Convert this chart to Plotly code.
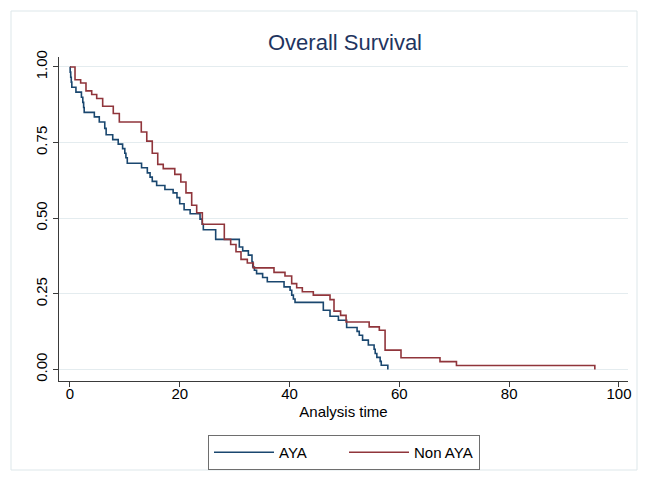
import plotly.graph_objects as go

# Kaplan-Meier step data (time, survival)
aya_time = [0, 0.05, 0.15, 0.25, 0.35, 1.1, 2.1, 2.35, 2.5, 2.6, 4.45, 5.35, 6.35, 6.6,
            7.8, 8.8, 9.6, 10.0, 10.2, 10.45, 13.05, 14.1, 14.6, 15.0, 15.8, 17.3, 18.8,
            19.5, 20.0, 20.8, 21.9, 23.7, 24.1, 24.3, 26.55, 30.85, 31.47, 32.5, 33.16,
            33.3, 33.6, 34.0, 35.1, 35.95, 39.0, 40.1, 40.4, 40.7, 41.0, 46.15, 47.37,
            48.9, 50.4, 52.3, 52.7, 53.3, 54.35, 55.4, 55.6, 55.9, 56.5, 56.7, 57.9]
aya_surv = [1.0, 0.983, 0.966, 0.95, 0.933, 0.917, 0.900, 0.883, 0.866, 0.850, 0.835, 0.818,
            0.797, 0.776, 0.760, 0.745, 0.730, 0.715, 0.700, 0.682, 0.667, 0.650, 0.636,
            0.622, 0.608, 0.595, 0.584, 0.568, 0.548, 0.528, 0.515, 0.497, 0.480, 0.462,
            0.430, 0.405, 0.392, 0.378, 0.356, 0.339, 0.328, 0.317, 0.304, 0.290, 0.273,
            0.262, 0.246, 0.233, 0.222, 0.196, 0.176, 0.163, 0.139, 0.126, 0.113, 0.097,
            0.081, 0.067, 0.053, 0.040, 0.027, 0.014, 0.0]

nonaya_time = [0, 0.93, 1.96, 2.93, 3.97, 4.88, 5.97, 7.9, 9.0, 13.0, 14.0, 15.0, 16.0, 17.0,
               19.1, 20.2, 21.14, 22.18, 23.09, 24.12, 28.12, 29.28, 30.25, 31.16, 32.31,
               33.4, 37.17, 39.17, 40.39, 41.3, 42.33, 44.33, 47.37, 48.1, 49.3, 50.3, 54.5,
               56.35, 57.4, 60.3, 67.4, 70.4, 95.6]
nonaya_surv = [1.0, 0.958, 0.947, 0.921, 0.909, 0.896, 0.870, 0.846, 0.818, 0.785, 0.755,
               0.715, 0.678, 0.664, 0.645, 0.620, 0.584, 0.543, 0.518, 0.480, 0.430, 0.413,
               0.389, 0.364, 0.352, 0.336, 0.321, 0.309, 0.284, 0.270, 0.257, 0.246, 0.231,
               0.193, 0.179, 0.157, 0.141, 0.130, 0.064, 0.039, 0.026, 0.013, 0.0]

series_names = ["AYA", "Non AYA"]
x_ticks = [0, 20, 40, 60, 80, 100]
y_ticks = [0, 0.25, 0.5, 0.75, 1.0]
y_tick_labels = ["0.00", "0.25", "0.50", "0.75", "1.00"]

FONT = "Liberation Sans, Arial, Helvetica, sans-serif"
BLUE = "#1a476f"
RED = "#90353b"

# page body has an 8px margin, so figure-space positions are shifted by -8px
L, T, R, B = 51, 49, 28, 107
PW, PH = 648 - L - R, 480 - T - B


def px_x(x):
    return (x - L) / PW


def px_y(y):
    return (480 - B - y) / PH


fig = go.Figure()
fig.add_trace(go.Scatter(x=aya_time, y=aya_surv, mode="lines", line_shape="hv",
                         name=series_names[0], line=dict(color=BLUE, width=1.6)))
fig.add_trace(go.Scatter(x=nonaya_time, y=nonaya_surv, mode="lines", line_shape="hv",
                         name=series_names[1], line=dict(color=RED, width=1.6)))

fig.update_layout(
    width=648, height=480,
    margin=dict(l=L, r=R, t=T, b=B),
    paper_bgcolor="white", plot_bgcolor="white",
    font=dict(family=FONT, size=15, color="#000000"),
    title=dict(text="Overall Survival", x=337 / 648, xanchor="center", y=1 - 34 / 480,
               yanchor="middle", font=dict(family=FONT, size=22, color="#1f3560")),
    showlegend=True,
    legend=dict(orientation="h", x=px_x(336), xanchor="center", y=px_y(427), yanchor="top",
                bordercolor="#6e6e6e", borderwidth=1, bgcolor="white",
                font=dict(family=FONT, size=15), itemwidth=60, entrywidth=60),
    xaxis=dict(range=[-1.985, 101.64], tickvals=x_ticks, showgrid=False, zeroline=False,
               showline=True, linecolor="#3a3a3a", linewidth=1.3, ticks="outside",
               ticklen=5, tickcolor="#3a3a3a", tickfont=dict(size=15),
               ticklabelstandoff=-6,
               title=dict(text="Analysis time", standoff=5, font=dict(size=15))),
    yaxis=dict(range=[-0.038, 1.033], tickvals=y_ticks, ticktext=y_tick_labels,
               tickangle=-90, showgrid=True, gridcolor="#e4ecef", gridwidth=1,
               zeroline=False, showline=True, linecolor="#3a3a3a", linewidth=1.3,
               ticks="outside", ticklen=5, tickcolor="#3a3a3a", tickfont=dict(size=15)),
    shapes=[dict(type="rect", xref="paper", yref="paper",
                 x0=px_x(3), x1=px_x(629), y0=px_y(462), y1=px_y(3),
                 line=dict(color="#dde7ea", width=1), fillcolor="rgba(0,0,0,0)",
                 layer="below")],
)

fig.write_html("out.html")
